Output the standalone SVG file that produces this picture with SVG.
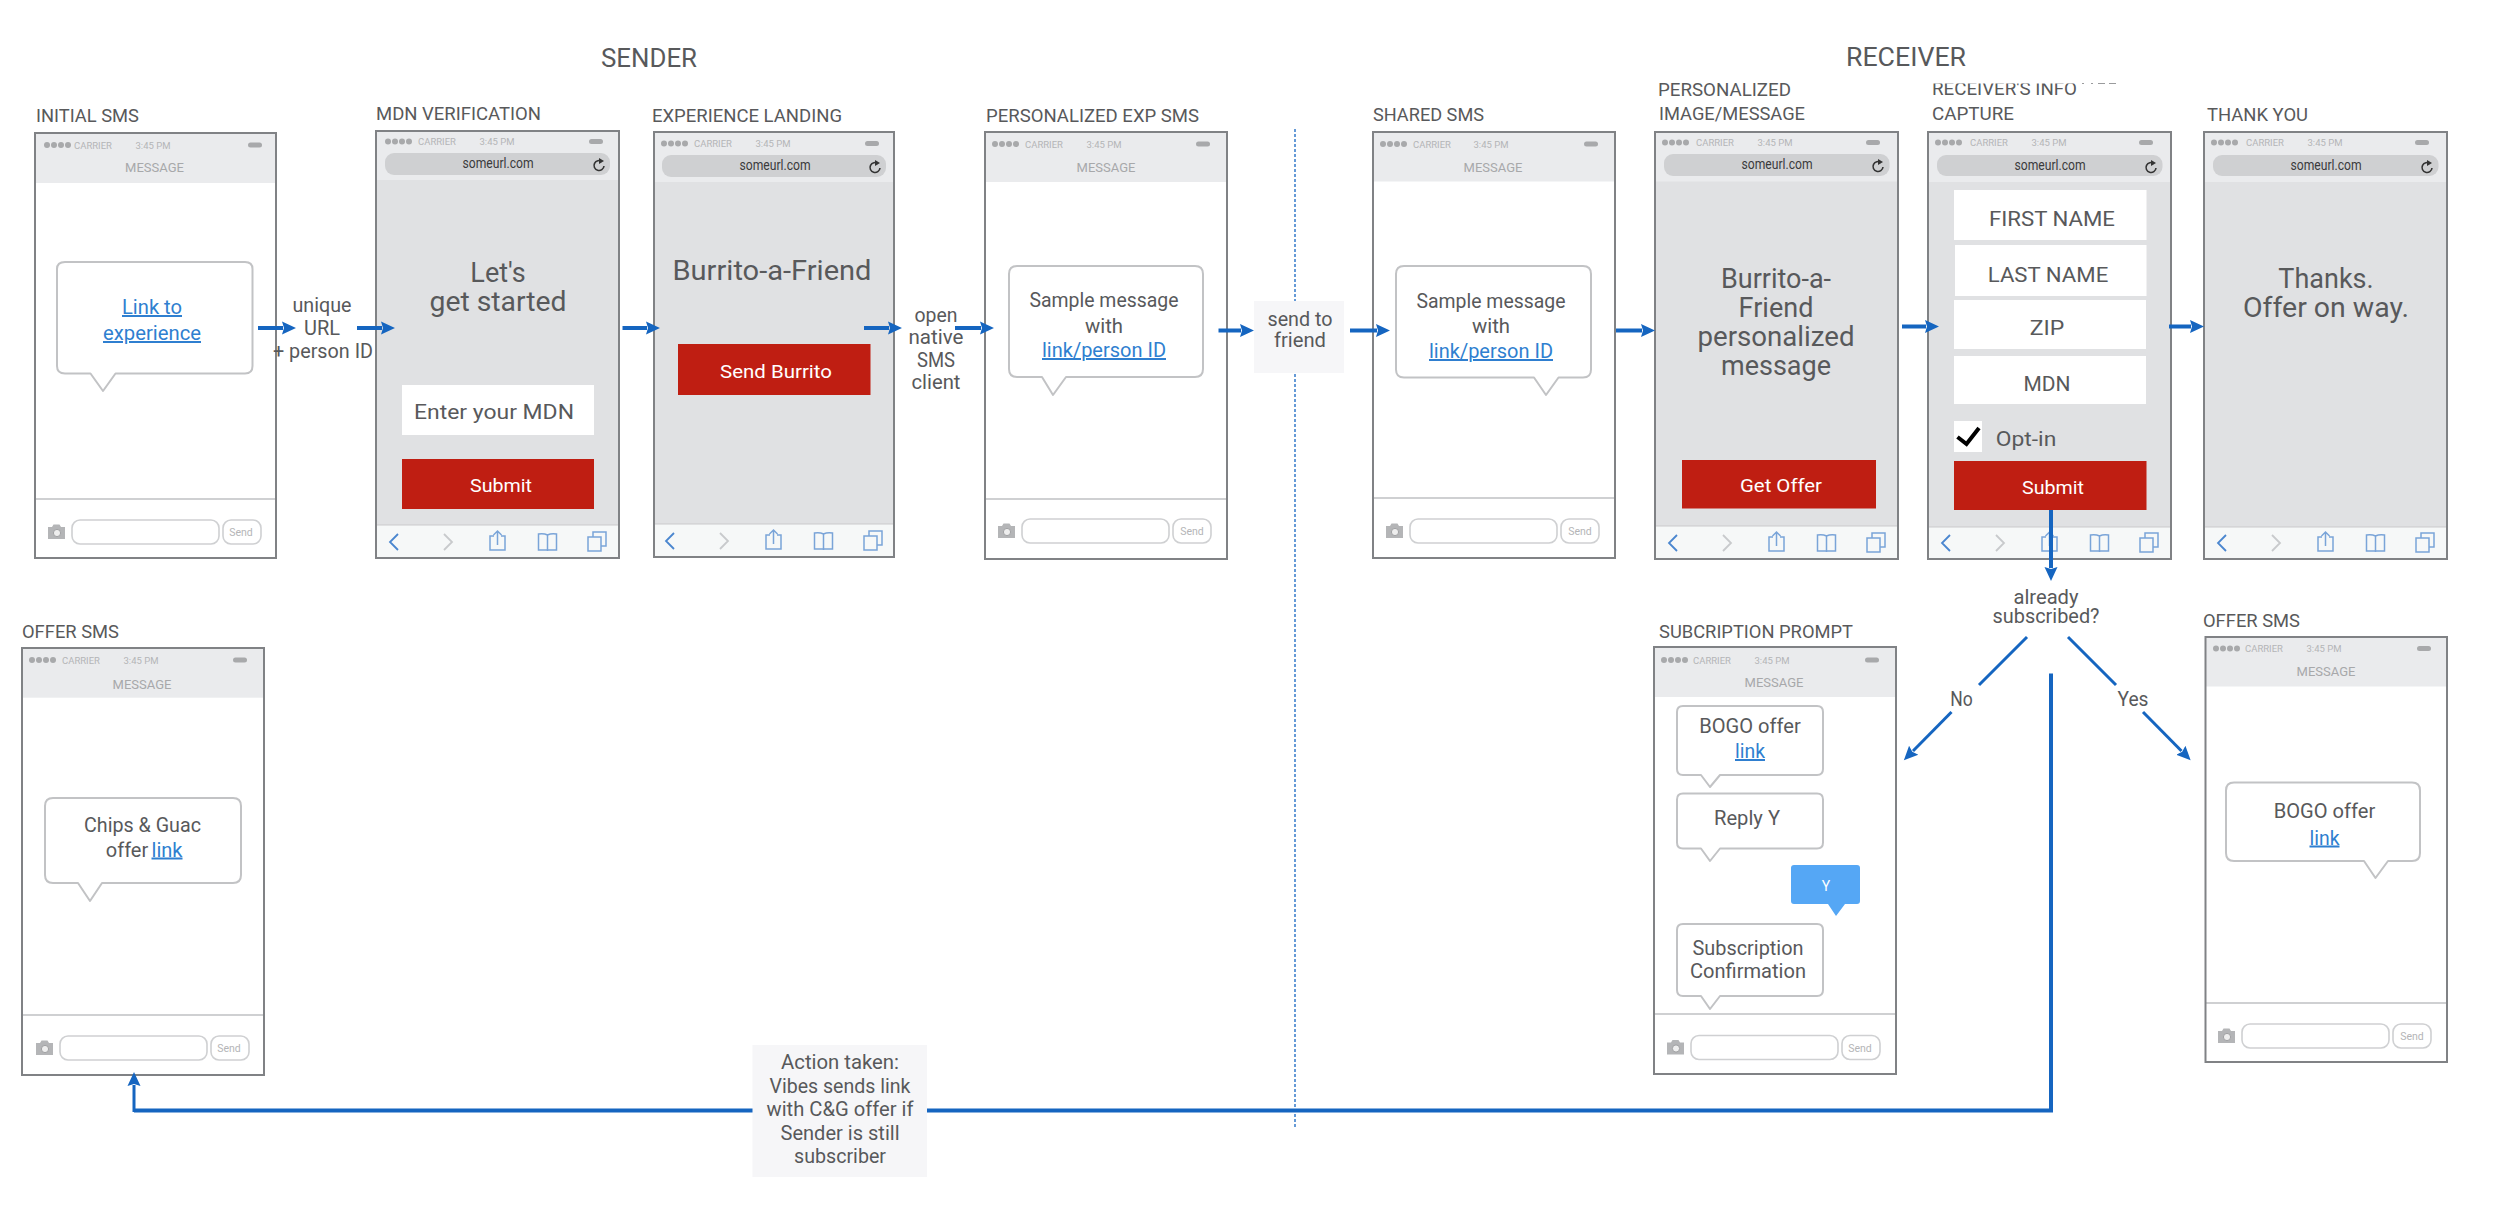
<svg xmlns="http://www.w3.org/2000/svg" xmlns:xlink="http://www.w3.org/1999/xlink" width="2500" height="1232" viewBox="0 0 2500 1232">
<style>
text{font-family:Roboto,"Liberation Sans",sans-serif;fill:#58595b}
.m{text-anchor:middle}
.sec{font-size:25px}
.lb{font-size:18.5px}
.b{font-size:20px;text-anchor:middle}
.h{font-size:27px;text-anchor:middle}
.f{font-size:21px;text-anchor:middle}
.w{font-size:19px;text-anchor:middle;fill:#fff}
.lnk{fill:#2f7fd0;text-decoration:underline}
.car{font-size:9.5px;fill:#b4b5b7}
.msg{font-size:13px;fill:#a7a8aa;text-anchor:middle}
.send{font-size:10.5px;fill:#b4b5b7;text-anchor:middle}
.url{font-size:15px;fill:#3a3a3c;text-anchor:middle}
.fr{fill:none;stroke:#808285;stroke-width:2}
.hd{fill:#eaebed}
.bd{fill:#e0e1e3}
.tb{fill:#f6f8f8;stroke:#c9cacc;stroke-width:1}
.dv{stroke:#cfd0d2;stroke-width:2}
.bb{fill:#fff;stroke:#c2c3c5;stroke-width:2;stroke-linejoin:round}
.ub{fill:#cfd0d2}
.in{fill:#fff}
.btn{fill:#bf1e12}
.cn{fill:none;stroke:#1565c0;stroke-width:4}
.cs{fill:none;stroke:#1565c0;stroke-width:3}
.box{fill:#f6f6f8}
</style>
<defs>
<marker id="ah" markerUnits="userSpaceOnUse" markerWidth="16" markerHeight="16" refX="1" refY="8" orient="auto"><path d="M0,1.5 L14,8 L0,14.5 L2,8 z" fill="#1565c0"/></marker>
<g id="status">
<circle cx="12" cy="0" r="3" fill="#a8a9ab"/><circle cx="19" cy="0" r="3" fill="#a8a9ab"/><circle cx="26" cy="0" r="3" fill="#a8a9ab"/><circle cx="33" cy="0" r="3" fill="#a8a9ab"/>
<rect x="213" y="-2.5" width="14" height="5" rx="2.5" fill="#a8a9ab"/>
</g>
<g id="composer" fill="none" stroke="#cfd0d2" stroke-width="1.6">
<rect x="37" y="0" width="147" height="24" rx="8" fill="#fff"/>
<rect x="188" y="0" width="38" height="24" rx="8" fill="#fff"/>
<path d="M13,7 h4 l1.5,-2.5 h6 l1.5,2.5 h4 v12 h-17z" fill="#b4b5b7" stroke="none"/>
<circle cx="22" cy="13" r="3.6" fill="#eee" stroke="#a0a1a3" stroke-width="1"/>
</g>
<g id="toolbar" fill="none" stroke-width="1.5">
<path d="M22,9 L14,17 L22,25" stroke="#4a86cf" stroke-width="1.8"/>
<path d="M68,9 L76,17 L68,25" stroke="#c8cacc" stroke-width="1.8"/>
<path d="M118,11 h-4 v14 h15 v-14 h-4 M121.500,20 v-14 M117.500,10 l4,-4 l4,4" stroke="#7aa4d8"/>
<path d="M171.500,10 c-3,-1.500 -6,-1.500 -9,-1 v16 h9 h9 v-16 c-3,-.5 -6,-.5 -9,1 v16" stroke="#7aa4d8"/>
<path d="M212,12 h13 v14 h-13z M217,12 v-5 h13 v14 h-5" stroke="#7aa4d8"/>
</g>
<g id="reload" fill="none" stroke="#333" stroke-width="1.6"><path d="M3,-3.500 A5,5 0 1 0 5,1"/><path d="M0,-7 L5,-4 L0,-1z" fill="#333" stroke="none"/></g>
</defs>
<rect width="2500" height="1232" fill="#fff"/>

<g id="headings">
<text class="sec m" x="649" y="67" textLength="96" lengthAdjust="spacingAndGlyphs">SENDER</text>
<text class="sec m" x="1906" y="66" textLength="120" lengthAdjust="spacingAndGlyphs">RECEIVER</text>
</g>

<g id="initial-sms">
<text class="lb" x="36" y="122" textLength="103" lengthAdjust="spacingAndGlyphs">INITIAL SMS</text>
<rect x="35" y="133" width="241" height="425" fill="#fff"/>
<rect class="hd" x="35" y="133" width="241" height="50"/>
<use href="#status" x="35" y="145"/>
<text class="car" x="74" y="148.500">CARRIER</text><text class="car m" x="153" y="148.500">3:45 PM</text>
<text class="msg" x="154.500" y="172">MESSAGE</text>
<line class="dv" x1="35" y1="499" x2="276" y2="499"/>
<use href="#composer" x="35" y="520"/><text class="send" x="241" y="536">Send</text>
<path class="bb" d="M65,262 H245 Q252.500,262 252.500,269 V366 Q252.500,373.500 245,373.500 H115.500 L103,391 L90.500,373.500 H65 Q57,373.500 57,366 V269 Q57,262 65,262z"/>
<text class="b lnk" x="152" y="314" textLength="60" lengthAdjust="spacingAndGlyphs">Link to</text>
<text class="b lnk" x="152" y="340" textLength="98" lengthAdjust="spacingAndGlyphs">experience</text>
<rect class="fr" x="35" y="133" width="241" height="425"/>
</g>

<g id="mdn-verification">
<text class="lb" x="376" y="120" textLength="165" lengthAdjust="spacingAndGlyphs">MDN VERIFICATION</text>
<rect class="bd" x="376" y="131" width="243" height="427"/>
<rect class="hd" x="376" y="131" width="243" height="49"/>
<use href="#status" x="376" y="141.500"/>
<text class="car" x="418" y="145">CARRIER</text><text class="car m" x="497" y="145">3:45 PM</text>
<rect class="ub" x="385" y="153" width="225" height="22" rx="9"/>
<text class="url" x="498" y="168" textLength="71" lengthAdjust="spacingAndGlyphs">someurl.com</text>
<use href="#reload" x="599" y="165"/>
<text class="h" x="498" y="282">Let's</text>
<text class="h" x="498" y="310.500" textLength="137" lengthAdjust="spacingAndGlyphs">get started</text>
<rect class="in" x="402" y="385" width="192" height="50"/>
<text class="f" x="494" y="419" textLength="160" lengthAdjust="spacingAndGlyphs">Enter your MDN</text>
<rect class="btn" x="402" y="459" width="192" height="50"/>
<text class="w" x="501" y="492" textLength="62" lengthAdjust="spacingAndGlyphs">Submit</text>
<rect class="tb" x="376" y="525" width="243" height="33"/>
<use href="#toolbar" x="376" y="525"/>
<rect class="fr" x="376" y="131" width="243" height="427"/>
</g>

<g id="experience-landing">
<text class="lb" x="652" y="122" textLength="190" lengthAdjust="spacingAndGlyphs">EXPERIENCE LANDING</text>
<rect class="bd" x="654" y="132" width="240" height="425"/>
<rect class="hd" x="654" y="132" width="240" height="50"/>
<use href="#status" x="652" y="143.500"/>
<text class="car" x="694" y="147">CARRIER</text><text class="car m" x="773" y="147">3:45 PM</text>
<rect class="ub" x="662" y="155" width="224" height="22" rx="9"/>
<text class="url" x="775" y="170" textLength="71" lengthAdjust="spacingAndGlyphs">someurl.com</text>
<use href="#reload" x="875" y="167"/>
<text class="h" x="772" y="280" textLength="199" lengthAdjust="spacingAndGlyphs">Burrito-a-Friend</text>
<rect class="btn" x="678" y="344" width="192.500" height="51"/>
<text class="w" x="776" y="378" textLength="112" lengthAdjust="spacingAndGlyphs">Send Burrito</text>
<rect class="tb" x="654" y="524" width="240" height="33"/>
<use href="#toolbar" x="652" y="524"/>
<rect class="fr" x="654" y="132" width="240" height="425"/>
</g>

<g id="personalized-exp-sms">
<text class="lb" x="986" y="122" textLength="213" lengthAdjust="spacingAndGlyphs">PERSONALIZED EXP SMS</text>
<rect x="985" y="132" width="242" height="427" fill="#fff"/>
<rect class="hd" x="985" y="132" width="242" height="50"/>
<use href="#status" x="983" y="144"/>
<text class="car" x="1025" y="147.500">CARRIER</text><text class="car m" x="1104" y="147.500">3:45 PM</text>
<text class="msg" x="1106" y="171.500">MESSAGE</text>
<line class="dv" x1="985" y1="499" x2="1227" y2="499"/>
<use href="#composer" x="985" y="519"/><text class="send" x="1192" y="535">Send</text>
<path class="bb" d="M1017,266 H1195 Q1203,266 1203,274 V369 Q1203,377 1195,377 H1066 L1053,395 L1042,377 H1017 Q1009,377 1009,369 V274 Q1009,266 1017,266z"/>
<text class="b" x="1104" y="307" textLength="149" lengthAdjust="spacingAndGlyphs">Sample message</text>
<text class="b" x="1104" y="333" textLength="38" lengthAdjust="spacingAndGlyphs">with</text>
<text class="b lnk" x="1104" y="357" textLength="124" lengthAdjust="spacingAndGlyphs">link/person ID</text>
<rect class="fr" x="985" y="132" width="242" height="427"/>
</g>

<g id="shared-sms">
<text class="lb" x="1373" y="121" textLength="111" lengthAdjust="spacingAndGlyphs">SHARED SMS</text>
<rect x="1373" y="132" width="242" height="426" fill="#fff"/>
<rect class="hd" x="1373" y="132" width="242" height="49.500"/>
<use href="#status" x="1371" y="144"/>
<text class="car" x="1413" y="147.500">CARRIER</text><text class="car m" x="1491" y="147.500">3:45 PM</text>
<text class="msg" x="1493" y="172">MESSAGE</text>
<line class="dv" x1="1373" y1="498" x2="1615" y2="498"/>
<use href="#composer" x="1373" y="519"/><text class="send" x="1580" y="535">Send</text>
<path class="bb" d="M1404,266 H1583 Q1591,266 1591,274 V369.500 Q1591,377.500 1583,377.500 H1558.500 L1546,395 L1534,377.500 H1404 Q1396,377.500 1396,369.500 V274 Q1396,266 1404,266z"/>
<text class="b" x="1491" y="307.500" textLength="149" lengthAdjust="spacingAndGlyphs">Sample message</text>
<text class="b" x="1491" y="333" textLength="38" lengthAdjust="spacingAndGlyphs">with</text>
<text class="b lnk" x="1491" y="358" textLength="124" lengthAdjust="spacingAndGlyphs">link/person ID</text>
<rect class="fr" x="1373" y="132" width="242" height="426"/>
</g>

<g id="personalized-image">
<text class="lb" x="1658" y="96" textLength="133" lengthAdjust="spacingAndGlyphs">PERSONALIZED</text>
<text class="lb" x="1659" y="120" textLength="146" lengthAdjust="spacingAndGlyphs">IMAGE/MESSAGE</text>
<rect class="bd" x="1655" y="132" width="243" height="427"/>
<rect class="hd" x="1655" y="132" width="243" height="49.500"/>
<use href="#status" x="1653" y="142.600"/>
<text class="car" x="1696" y="146">CARRIER</text><text class="car m" x="1775" y="146">3:45 PM</text>
<rect class="ub" x="1664" y="154" width="225.500" height="22" rx="9"/>
<text class="url" x="1777" y="169" textLength="71" lengthAdjust="spacingAndGlyphs">someurl.com</text>
<use href="#reload" x="1878" y="166"/>
<text class="h" x="1776" y="288">Burrito-a-</text>
<text class="h" x="1776" y="317">Friend</text>
<text class="h" x="1776" y="346" textLength="157" lengthAdjust="spacingAndGlyphs">personalized</text>
<text class="h" x="1776" y="375">message</text>
<rect class="btn" x="1682" y="460" width="194" height="48.500"/>
<text class="w" x="1781" y="492" textLength="82" lengthAdjust="spacingAndGlyphs">Get Offer</text>
<rect class="tb" x="1655" y="526" width="243" height="33"/>
<use href="#toolbar" x="1655" y="526"/>
<rect class="fr" x="1655" y="132" width="243" height="427"/>
</g>

<g id="info-capture">
<text class="lb" x="1932" y="94.500" textLength="145" lengthAdjust="spacingAndGlyphs">RECEIVER'S INFO</text>
<rect x="1925" y="74" width="200" height="9.500" fill="#fff"/>
<path d="M2082,83.500 h2 m7,0 h2 m5,0 h7 m4,0 h7" stroke="#9a9b9d" stroke-width="1" fill="none"/>
<text class="lb" x="1932" y="119.500" textLength="82" lengthAdjust="spacingAndGlyphs">CAPTURE</text>
<rect class="bd" x="1928" y="132" width="243" height="427"/>
<rect class="hd" x="1928" y="132" width="243" height="50"/>
<use href="#status" x="1926" y="142.600"/>
<text class="car" x="1970" y="146">CARRIER</text><text class="car m" x="2049" y="146">3:45 PM</text>
<rect class="ub" x="1937" y="155" width="225.500" height="21" rx="9"/>
<text class="url" x="2050" y="170" textLength="71" lengthAdjust="spacingAndGlyphs">someurl.com</text>
<use href="#reload" x="2151" y="167"/>
<rect class="in" x="1954" y="190" width="192.500" height="50"/>
<text class="f" x="2052" y="226" textLength="126" lengthAdjust="spacingAndGlyphs">FIRST NAME</text>
<rect class="in" x="1955" y="245" width="191.500" height="51"/>
<text class="f" x="2048" y="281.500" textLength="120.500" lengthAdjust="spacingAndGlyphs">LAST NAME</text>
<rect class="in" x="1954" y="300" width="192" height="49"/>
<text class="f" x="2047" y="335" textLength="34.500" lengthAdjust="spacingAndGlyphs">ZIP</text>
<rect class="in" x="1954" y="356" width="192" height="48"/>
<text class="f" x="2047" y="391" textLength="47" lengthAdjust="spacingAndGlyphs">MDN</text>
<rect class="in" x="1954" y="421" width="28" height="31"/>
<path d="M1957.500,437 L1966.500,444 L1979,428" fill="none" stroke="#000" stroke-width="4"/>
<text class="f" x="2026" y="446" textLength="60.500" lengthAdjust="spacingAndGlyphs">Opt-in</text>
<rect class="btn" x="1954" y="461" width="192.500" height="49"/>
<text class="w" x="2053" y="493.500" textLength="62" lengthAdjust="spacingAndGlyphs">Submit</text>
<rect class="tb" x="1928" y="527" width="243" height="32"/>
<use href="#toolbar" x="1928" y="526"/>
<rect class="fr" x="1928" y="132" width="243" height="427"/>
</g>

<g id="thank-you">
<text class="lb" x="2207" y="121" textLength="101" lengthAdjust="spacingAndGlyphs">THANK YOU</text>
<rect class="bd" x="2204" y="132" width="243" height="427"/>
<rect class="hd" x="2204" y="132" width="243" height="50"/>
<use href="#status" x="2202" y="142.600"/>
<text class="car" x="2246" y="146">CARRIER</text><text class="car m" x="2325" y="146">3:45 PM</text>
<rect class="ub" x="2213" y="155" width="225.500" height="21" rx="9"/>
<text class="url" x="2326" y="170" textLength="71" lengthAdjust="spacingAndGlyphs">someurl.com</text>
<use href="#reload" x="2427" y="167"/>
<text class="h" x="2326" y="288">Thanks.</text>
<text class="h" x="2326" y="317" textLength="166" lengthAdjust="spacingAndGlyphs">Offer on way.</text>
<rect class="tb" x="2204" y="527" width="243" height="32"/>
<use href="#toolbar" x="2204" y="526"/>
<rect class="fr" x="2204" y="132" width="243" height="427"/>
</g>

<g id="offer-sms-sender">
<text class="lb" x="22" y="638" textLength="97" lengthAdjust="spacingAndGlyphs">OFFER SMS</text>
<rect x="22" y="648" width="242" height="427" fill="#fff"/>
<rect class="hd" x="22" y="648" width="242" height="49.700"/>
<use href="#status" x="20" y="660"/>
<text class="car" x="62" y="663.500">CARRIER</text><text class="car m" x="141" y="663.500">3:45 PM</text>
<text class="msg" x="142" y="689">MESSAGE</text>
<line class="dv" x1="22" y1="1015" x2="264" y2="1015"/>
<use href="#composer" x="23" y="1036"/><text class="send" x="229" y="1052">Send</text>
<path class="bb" d="M53,798 H233 Q241,798 241,806 V875 Q241,883 233,883 H102 L90,901 L78,883 H53 Q45,883 45,875 V806 Q45,798 53,798z"/>
<text class="b" x="142.500" y="831.500" textLength="117" lengthAdjust="spacingAndGlyphs">Chips &amp; Guac</text>
<text class="b" x="127" y="856.500">offer</text><text class="b lnk" x="167" y="856.500" textLength="31" lengthAdjust="spacingAndGlyphs">link</text>
<rect class="fr" x="22" y="648" width="242" height="427"/>
</g>

<g id="subscription-prompt">
<text class="lb" x="1659" y="637.500" textLength="194" lengthAdjust="spacingAndGlyphs">SUBCRIPTION PROMPT</text>
<rect x="1654" y="647" width="242" height="427" fill="#fff"/>
<rect class="hd" x="1654" y="647" width="242" height="50"/>
<use href="#status" x="1652" y="660"/>
<text class="car" x="1693" y="663.500">CARRIER</text><text class="car m" x="1772" y="663.500">3:45 PM</text>
<text class="msg" x="1774" y="687">MESSAGE</text>
<line class="dv" x1="1654" y1="1014" x2="1896" y2="1014"/>
<use href="#composer" x="1654" y="1035.500"/><text class="send" x="1860" y="1051.500">Send</text>
<path class="bb" d="M1683,706 H1817 Q1823,706 1823,712 V769 Q1823,775 1817,775 H1720 L1710,787 L1701,775 H1683 Q1677,775 1677,769 V712 Q1677,706 1683,706z"/>
<text class="b" x="1750" y="732.500" textLength="101.500" lengthAdjust="spacingAndGlyphs">BOGO offer</text>
<text class="b lnk" x="1750" y="758" textLength="30" lengthAdjust="spacingAndGlyphs">link</text>
<path class="bb" d="M1683,793.500 H1817 Q1823,793.500 1823,799.500 V842.500 Q1823,848.500 1817,848.500 H1720 L1710,861 L1701,848.500 H1683 Q1677,848.500 1677,842.500 V799.500 Q1677,793.500 1683,793.500z"/>
<text class="b" x="1747" y="825" textLength="66" lengthAdjust="spacingAndGlyphs">Reply Y</text>
<path d="M1794,865 H1857 Q1860,865 1860,868 V901 Q1860,904 1857,904 H1845 L1836,916 L1828,904 H1794 Q1791,904 1791,901 V868 Q1791,865 1794,865z" fill="#55a7f5"/>
<text x="1826" y="890.500" style="font-size:14px;fill:#fff;text-anchor:middle">Y</text>
<path class="bb" d="M1683,924 H1817 Q1823,924 1823,930 V990 Q1823,996 1817,996 H1720 L1710,1009 L1701,996 H1683 Q1677,996 1677,990 V930 Q1677,924 1683,924z"/>
<text class="b" x="1748" y="955" textLength="111" lengthAdjust="spacingAndGlyphs">Subscription</text>
<text class="b" x="1748" y="978" textLength="116" lengthAdjust="spacingAndGlyphs">Confirmation</text>
<rect class="fr" x="1654" y="647" width="242" height="427"/>
</g>

<g id="offer-sms-receiver">
<text class="lb" x="2203" y="627" textLength="97" lengthAdjust="spacingAndGlyphs">OFFER SMS</text>
<rect x="2205.500" y="637" width="241.500" height="425" fill="#fff"/>
<rect class="hd" x="2205.500" y="637" width="241.500" height="49.500"/>
<use href="#status" x="2204" y="648.600"/>
<text class="car" x="2245" y="652">CARRIER</text><text class="car m" x="2324" y="652">3:45 PM</text>
<text class="msg" x="2326" y="676">MESSAGE</text>
<line class="dv" x1="2205.500" y1="1003" x2="2447" y2="1003"/>
<use href="#composer" x="2205" y="1024"/><text class="send" x="2412" y="1040">Send</text>
<path class="bb" d="M2234,782.500 H2412 Q2420,782.500 2420,790.500 V853 Q2420,861 2412,861 H2388 L2375.500,878 L2364,861 H2234 Q2226,861 2226,853 V790.500 Q2226,782.500 2234,782.500z"/>
<text class="b" x="2324.500" y="818" textLength="101.500" lengthAdjust="spacingAndGlyphs">BOGO offer</text>
<text class="b lnk" x="2324.500" y="844.500" textLength="30" lengthAdjust="spacingAndGlyphs">link</text>
<rect class="fr" x="2205.500" y="637" width="241.500" height="425"/>
</g>

<g id="connectors">
<line x1="1295" y1="129" x2="1295" y2="1127" fill="none" stroke="#1565c0" stroke-width="1.300" stroke-dasharray="3 2"/>
<path class="cn" marker-end="url(#ah)" d="M258,328 H283"/>
<path class="cn" marker-end="url(#ah)" d="M357,328 H382"/>
<path class="cn" marker-end="url(#ah)" d="M622.500,328 H647"/>
<path class="cn" marker-end="url(#ah)" d="M864,328 H889"/>
<path class="cn" marker-end="url(#ah)" d="M955,328 H981"/>
<path class="cn" marker-end="url(#ah)" d="M1218.500,330.500 H1241"/>
<path class="cn" marker-end="url(#ah)" d="M1350,330.500 H1377"/>
<path class="cn" marker-end="url(#ah)" d="M1616,330.500 H1642"/>
<path class="cn" marker-end="url(#ah)" d="M1902,326.500 H1926"/>
<path class="cn" marker-end="url(#ah)" d="M2169,326.500 H2191"/>
<path class="cn" marker-end="url(#ah)" d="M2051,510 V568"/>
<path class="cs" d="M2027,637 L1979,685"/>
<path class="cs" marker-end="url(#ah)" d="M1951.500,712 L1913,751"/>
<path class="cs" d="M2068,637 L2116,685"/>
<path class="cs" marker-end="url(#ah)" d="M2143,712 L2181.500,751"/>
<path class="cn" d="M2051,673.500 V1110.500 H134"/>
<path class="cs" marker-end="url(#ah)" d="M134,1112 V1085"/>
</g>

<g id="flow-labels">
<text class="b" x="322" y="312" textLength="59" lengthAdjust="spacingAndGlyphs">unique</text>
<text class="b" x="322" y="335" textLength="36" lengthAdjust="spacingAndGlyphs">URL</text>
<text class="b" x="323" y="358" textLength="100" lengthAdjust="spacingAndGlyphs">+ person ID</text>
<text class="b" x="936" y="322" textLength="43" lengthAdjust="spacingAndGlyphs">open</text>
<text class="b" x="936" y="344" textLength="55" lengthAdjust="spacingAndGlyphs">native</text>
<text class="b" x="936" y="367" textLength="38" lengthAdjust="spacingAndGlyphs">SMS</text>
<text class="b" x="936" y="389" textLength="49" lengthAdjust="spacingAndGlyphs">client</text>
<text class="b" x="2046" y="604" textLength="65" lengthAdjust="spacingAndGlyphs">already</text>
<text class="b" x="2046" y="623" textLength="107" lengthAdjust="spacingAndGlyphs">subscribed?</text>
<text class="b" x="1961.500" y="706" textLength="22.500" lengthAdjust="spacingAndGlyphs">No</text>
<text class="b" x="2133" y="706" textLength="31" lengthAdjust="spacingAndGlyphs">Yes</text>
</g>

<g id="send-to-friend">
<rect class="box" x="1254" y="301" width="90" height="72"/>
<text class="b" x="1300" y="326" textLength="65" lengthAdjust="spacingAndGlyphs">send to</text>
<text class="b" x="1300" y="347" textLength="52" lengthAdjust="spacingAndGlyphs">friend</text>
</g>

<g id="action-taken">
<rect class="box" x="752.500" y="1045" width="174.500" height="132"/>
<text class="b" x="840" y="1069" textLength="118" lengthAdjust="spacingAndGlyphs">Action taken:</text>
<text class="b" x="840" y="1093" textLength="141" lengthAdjust="spacingAndGlyphs">Vibes sends link</text>
<text class="b" x="840" y="1116" textLength="147" lengthAdjust="spacingAndGlyphs">with C&amp;G offer if</text>
<text class="b" x="840" y="1140" textLength="119" lengthAdjust="spacingAndGlyphs">Sender is still</text>
<text class="b" x="840" y="1163" textLength="92" lengthAdjust="spacingAndGlyphs">subscriber</text>
</g>
</svg>
